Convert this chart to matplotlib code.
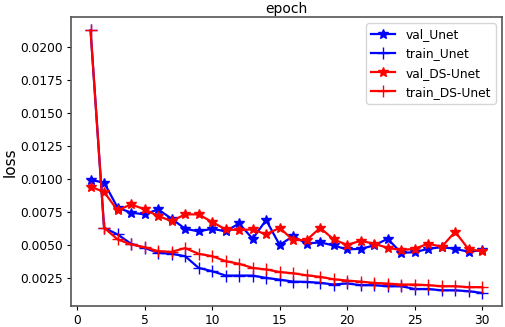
import matplotlib.pyplot as plt
import numpy as np

epochs = np.arange(1, 31)

val_unet = [0.00993, 0.00973, 0.00783, 0.00745, 0.00732, 0.00770, 0.00699, 0.00623, 0.00603, 0.00623,
            0.00603, 0.00663, 0.00547, 0.00689, 0.00500, 0.00567, 0.00510, 0.00520, 0.00496, 0.00466,
            0.00471, 0.00496, 0.00547, 0.00440, 0.00445, 0.00471, 0.00483, 0.00471, 0.00448, 0.00461]
train_unet = [0.02127, 0.00630, 0.00580, 0.00509, 0.00478, 0.00440, 0.00433, 0.00415, 0.00326, 0.00301,
              0.00268, 0.00268, 0.00268, 0.00250, 0.00237, 0.00222, 0.00220, 0.00213, 0.00200, 0.00208,
              0.00195, 0.00195, 0.00187, 0.00187, 0.00166, 0.00166, 0.00156, 0.00156, 0.00149, 0.00136]
val_ds = [0.00942, 0.00902, 0.00762, 0.00808, 0.00770, 0.00720, 0.00681, 0.00732, 0.00732, 0.00674,
          0.00618, 0.00613, 0.00618, 0.00580, 0.00630, 0.00537, 0.00537, 0.00630, 0.00542, 0.00500,
          0.00532, 0.00509, 0.00478, 0.00461, 0.00471, 0.00510, 0.00486, 0.00600, 0.00466, 0.00453]
train_ds = [0.02127, 0.00630, 0.00542, 0.00504, 0.00483, 0.00453, 0.00448, 0.00476, 0.00433, 0.00415,
            0.00377, 0.00357, 0.00326, 0.00314, 0.00295, 0.00285, 0.00270, 0.00258, 0.00240, 0.00230,
            0.00222, 0.00212, 0.00207, 0.00200, 0.00200, 0.00195, 0.00187, 0.00187, 0.00180, 0.00180]

fig = plt.figure(figsize=(5.05, 3.27), dpi=100)
ax = fig.add_axes([0.1406, 0.064, 0.853, 0.883])

ax.plot(epochs, val_unet, color='blue', marker='*', markersize=7, linewidth=1.6, label='val_Unet')
ax.plot(epochs, train_unet, color='blue', marker='+', markersize=8, linewidth=1.6, label='train_Unet')
ax.plot(epochs, val_ds, color='red', marker='*', markersize=7, linewidth=1.6, label='val_DS-Unet')
ax.plot(epochs, train_ds, color='red', marker='+', markersize=8, linewidth=1.6, label='train_DS-Unet')

ax.set_xticks([0, 5, 10, 15, 20, 25, 30])
ax.set_yticks([0.0025, 0.0050, 0.0075, 0.0100, 0.0125, 0.0150, 0.0175, 0.0200])
ax.set_yticklabels(['0.0025', '0.0050', '0.0075', '0.0100', '0.0125', '0.0150', '0.0175', '0.0200'])
ax.tick_params(labelsize=8.8, length=2.8, pad=2.8)
for s in ax.spines.values():
    s.set_color('#555555')
    s.set_linewidth(1.2)
ax.set_title('epoch', fontsize=10, pad=3)
ax.set_ylabel('loss', fontsize=11, labelpad=2)
ax.legend(loc='upper right', fontsize=8.8)

fig.savefig('out.png', dpi=100)
